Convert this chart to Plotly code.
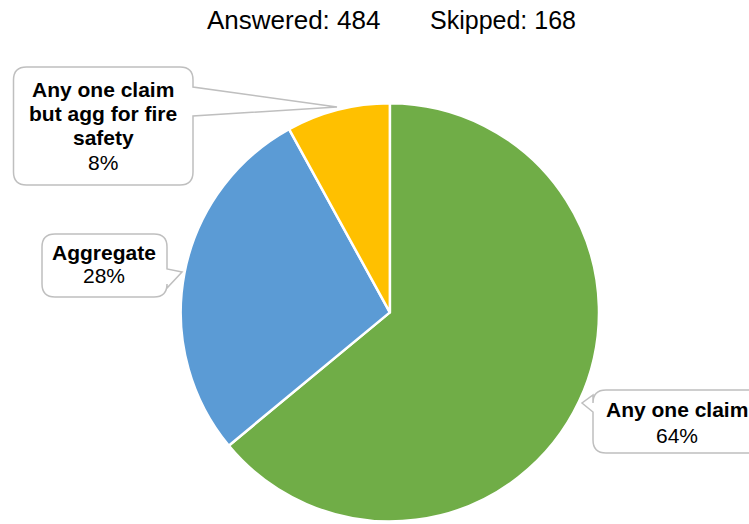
import plotly.graph_objects as go

labels = ["Any one claim", "Aggregate", "Any one claim but agg for fire safety"]
values = [64, 28, 8]
colors = ["#70AD47", "#5B9BD5", "#FFC000"]
label_lines = [["Any one claim"], ["Aggregate"], ["Any one claim", "but agg for fire", "safety"]]
answered = 484
skipped = 168

W, H = 749, 524
FONT = "Arial, Liberation Sans, sans-serif"


def px(x):
    return x / W


def py(y):
    return 1 - y / H


def callout_path(x0, y0, x1, y1, tail, r=13):
    # rounded box with a pointer tail; tail = (side, a, b, tipx, tipy)
    side, a, b, tx, ty = tail
    d = f"M{px(x0 + r)},{py(y0)} "
    d += f"L{px(x1 - r)},{py(y0)} Q{px(x1)},{py(y0)} {px(x1)},{py(y0 + r)} "
    if side == "right":
        d += f"L{px(x1)},{py(a)} L{px(tx)},{py(ty)} L{px(x1)},{py(b)} "
    d += f"L{px(x1)},{py(y1 - r)} Q{px(x1)},{py(y1)} {px(x1 - r)},{py(y1)} "
    d += f"L{px(x0 + r)},{py(y1)} Q{px(x0)},{py(y1)} {px(x0)},{py(y1 - r)} "
    if side == "left":
        d += f"L{px(x0)},{py(b)} L{px(tx)},{py(ty)} L{px(x0)},{py(a)} "
    d += f"L{px(x0)},{py(y0 + r)} Q{px(x0)},{py(y0)} {px(x0 + r)},{py(y0)} Z"
    return d


fig = go.Figure(go.Pie(
    labels=labels,
    values=values,
    marker=dict(colors=colors, line=dict(color="white", width=2.5)),
    sort=False,
    direction="clockwise",
    rotation=0,
    textinfo="none",
    showlegend=False,
    domain=dict(x=[px(180.7), px(599)], y=[py(521.7), py(103)]),
))

# callout boxes: (box x0, y0, x1, y1), tail, text center x, first baseline, line gap
boxes = [
    ((593, 390, 765, 453), ("left", 395, 412, 582, 403), 677, 416.7, 26.6),
    ((42, 234, 167, 297), ("right", 269, 288, 182, 272), 104, 260, 23.3),
    ((13.5, 67, 193, 185), ("right", 87, 116, 337, 107), 103, 97, 24.2),
]

total = sum(values)
annotations = []
shapes = []
for i, (box, tail, cx, base, gap) in enumerate(boxes):
    shapes.append(dict(type="path", xref="paper", yref="paper",
                       path=callout_path(*box, tail),
                       line=dict(color="#BFBFBF", width=1.5), fillcolor="white"))
    lines = label_lines[i] + [f"{values[i] / total * 100:.0f}%"]
    for j, t in enumerate(lines):
        bold = j < len(lines) - 1
        annotations.append(dict(
            x=px(cx), y=py(base + j * gap - 7.5), xref="paper", yref="paper",
            text=f"<b>{t}</b>" if bold else t, showarrow=False,
            xanchor="center", yanchor="middle",
            font=dict(family=FONT, size=21, color="#000000"),
        ))

annotations.append(dict(x=px(205), y=py(19.5), xref="paper", yref="paper",
                        text=f"Answered: {answered}", showarrow=False,
                        xanchor="left", yanchor="middle",
                        font=dict(family=FONT, size=26, color="#000000")))
annotations.append(dict(x=px(428), y=py(19.5), xref="paper", yref="paper",
                        text=f"Skipped: {skipped}", showarrow=False,
                        xanchor="left", yanchor="middle",
                        font=dict(family=FONT, size=25, color="#000000")))

fig.update_layout(
    width=W, height=H, autosize=False,
    margin=dict(l=0, r=0, t=0, b=0),
    paper_bgcolor="white", plot_bgcolor="white",
    shapes=shapes, annotations=annotations,
)

fig.write_html("out.html", config={"displayModeBar": False},
               post_script="document.body.style.margin='0';")
